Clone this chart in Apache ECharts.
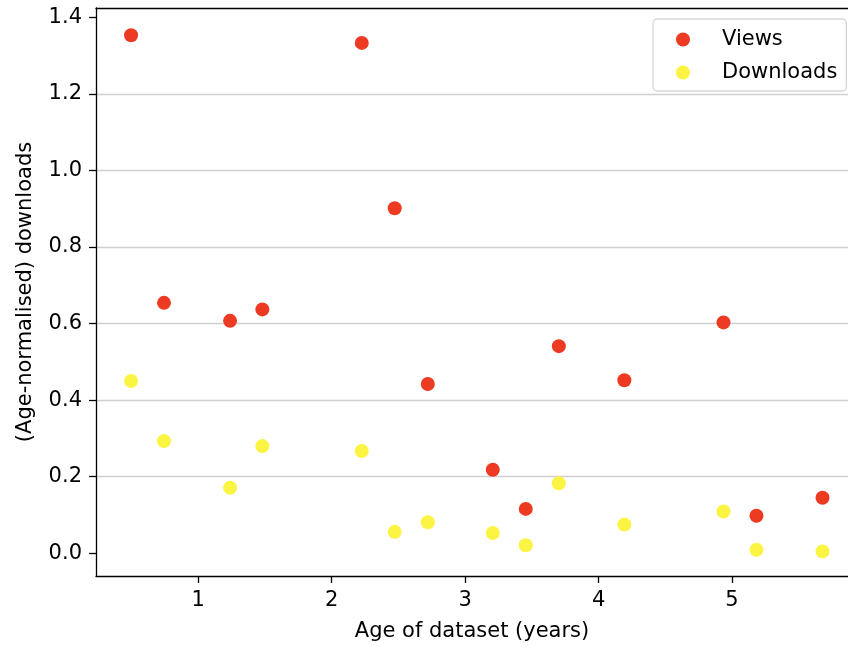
<!DOCTYPE html>
<html>
<head>
<meta charset="utf-8">
<script src="https://cdn.jsdelivr.net/npm/echarts@6/dist/echarts.min.js"></script>
<style>
  html, body { margin: 0; padding: 0; background: #fff; }
  #chart { width: 848px; height: 647px; }
</style>
</head>
<body>
<div id="chart"></div>
<script>
// Age of dataset (years)
const ages = [0.496, 0.743, 1.238, 1.480, 2.225, 2.472, 2.720, 3.207, 3.454, 3.702, 4.193, 4.936, 5.183, 5.678];
// Age-normalised views
const views = [1.353, 0.654, 0.607, 0.637, 1.333, 0.901, 0.442, 0.218, 0.116, 0.541, 0.452, 0.603, 0.098, 0.145];
// Age-normalised downloads
const downloads = [0.450, 0.293, 0.171, 0.280, 0.267, 0.056, 0.081, 0.053, 0.021, 0.183, 0.075, 0.109, 0.009, 0.005];

const xTicks = [1, 2, 3, 4, 5];
const yTicks = [0.0, 0.2, 0.4, 0.6, 0.8, 1.0, 1.2, 1.4];
const seriesNames = ['Views', 'Downloads'];

const FONT = 'DejaVu Sans';
const FS = 21;
const chart = echarts.init(document.getElementById('chart'), null, { renderer: 'canvas' });

const pairs = (xs, ys) => xs.map((x, i) => [x, ys[i]]);

const option = {
  animation: false,
  backgroundColor: '#ffffff',
  textStyle: { fontFamily: FONT },
  grid: { left: 96, right: 0, top: 8, bottom: 71, containLabel: false },
  legend: {
    orient: 'vertical',
    left: 653,
    top: 19,
    padding: [10, 9, 8, 23],
    itemWidth: 14,
    itemHeight: 14,
    itemGap: 12,
    icon: 'circle',
    backgroundColor: 'rgba(255,255,255,0.8)',
    borderColor: '#d6d6d6',
    borderWidth: 1.3,
    borderRadius: 4,
    textStyle: { fontFamily: FONT, fontSize: FS, color: '#000', lineHeight: 20, padding: [0, 0, 0, 27] },
    data: seriesNames
  },
  xAxis: [{
    type: 'value',
    min: 0.2333,
    max: 5.869,
    splitNumber: 5,
    name: 'Age of dataset (years)',
    nameLocation: 'middle',
    nameGap: 45,
    nameTextStyle: { fontFamily: FONT, fontSize: FS, color: '#000' },
    axisLine: { show: true, onZero: false, lineStyle: { color: '#000', width: 1.3 } },
    axisTick: { show: true, inside: false, length: 7, customValues: xTicks, lineStyle: { color: '#000', width: 1.3 } },
    axisLabel: { show: true, margin: 14, customValues: xTicks, fontFamily: FONT, fontSize: FS, color: '#000',
      formatter: v => String(Math.round(v)) },
    splitLine: { show: false }
  }, {
    type: 'value',
    position: 'top',
    min: 0.2333,
    max: 5.869,
    axisLine: { show: true, onZero: false, lineStyle: { color: '#000', width: 1.3 } },
    axisTick: { show: false },
    axisLabel: { show: false },
    splitLine: { show: false }
  }],
  yAxis: {
    type: 'value',
    min: -0.0593,
    max: 1.4241,
    splitNumber: 7,
    name: '(Age-normalised) downloads',
    nameLocation: 'middle',
    nameGap: 60,
    nameTextStyle: { fontFamily: FONT, fontSize: FS, color: '#000' },
    axisLine: { show: true, onZero: false, lineStyle: { color: '#000', width: 1.3 } },
    axisTick: { show: true, inside: false, length: 7, customValues: yTicks, lineStyle: { color: '#000', width: 1.3 } },
    axisLabel: { show: true, margin: 14, customValues: yTicks, fontFamily: FONT, fontSize: FS, color: '#000',
      formatter: v => v.toFixed(1) },
    splitLine: { show: true, showMinLine: false, showMaxLine: false, lineStyle: { color: '#cfcfcf', width: 1.3 } }
  },
  series: [{
    name: seriesNames[0],
    type: 'scatter',
    xAxisIndex: 0,
    symbol: 'circle',
    symbolSize: 14,
    itemStyle: { color: '#ec3b22', opacity: 1 },
    data: pairs(ages, views),
    z: 3
  }, {
    name: seriesNames[1],
    type: 'scatter',
    xAxisIndex: 0,
    symbol: 'circle',
    symbolSize: 14,
    itemStyle: { color: '#fbf443', opacity: 1 },
    data: pairs(ages, downloads),
    z: 3
  }]
};
chart.setOption(option);
</script>
</body>
</html>
